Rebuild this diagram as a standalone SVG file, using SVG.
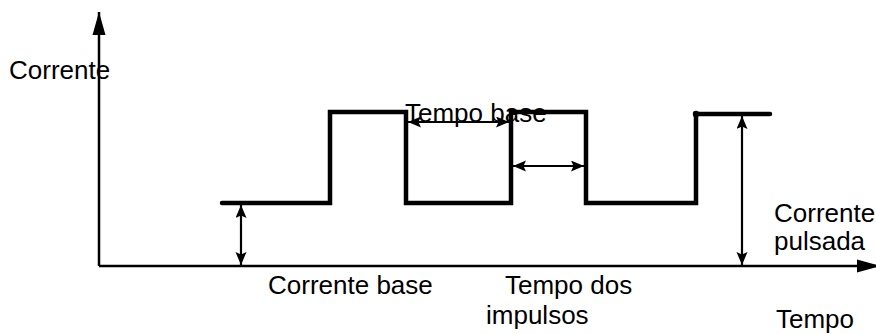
<svg xmlns="http://www.w3.org/2000/svg" width="876" height="334" viewBox="0 0 876 334">
<defs>
<style>
.t{font-family:"Liberation Sans",Arial,sans-serif;font-size:26px;fill:#000}
.ax{stroke:#000;stroke-width:2.5;fill:none}
.dim{stroke:#000;stroke-width:2.2;fill:none}
.wave{stroke:#000;stroke-width:4.5;fill:none;stroke-linecap:round;stroke-linejoin:miter}
</style>
<marker id="big" markerUnits="userSpaceOnUse" markerWidth="24" markerHeight="14" refX="23" refY="7" orient="auto-start-reverse"><path d="M0,0.5 L23,7 L0,13.5 Z" fill="#000"/></marker>
<marker id="sm" markerUnits="userSpaceOnUse" markerWidth="14" markerHeight="12" refX="13" refY="5.5" orient="auto-start-reverse"><path d="M0,0 L13,5.5 L0,11 L2.5,5.5 Z" fill="#000"/></marker>
</defs>
<rect width="876" height="334" fill="#fff"/>
<g id="axes">
<line class="ax" x1="99" y1="266" x2="99" y2="12" marker-end="url(#big)"/>
<line class="ax" x1="99" y1="266" x2="880" y2="266" marker-end="url(#big)"/>
</g>
<g id="waveform">
<path class="wave" d="M222,203 H330 V112 H406 V203 H511 V112 H586 V203 H696 V114 H770"/>
<circle cx="696" cy="114" r="3.2" fill="#000"/>
</g>
<g id="connectors">
<line class="dim" x1="408" y1="122" x2="509" y2="122" marker-start="url(#sm)" marker-end="url(#sm)"/>
<line class="dim" x1="513" y1="166" x2="584" y2="166" marker-start="url(#sm)" marker-end="url(#sm)"/>
<line class="dim" x1="241" y1="205" x2="241" y2="265" marker-start="url(#sm)" marker-end="url(#sm)"/>
<line class="dim" x1="742" y1="116" x2="742" y2="265" marker-start="url(#sm)" marker-end="url(#sm)"/>
</g>
<g id="labels">
<text class="t" x="9" y="79">Corrente</text>
<text class="t" x="405" y="122">Tempo base</text>
<text class="t" x="268" y="294">Corrente base</text>
<text class="t" x="505" y="294">Tempo dos</text>
<text class="t" x="486" y="324">impulsos</text>
<text class="t" x="774" y="222">Corrente</text>
<text class="t" x="774" y="250">pulsada</text>
<text class="t" x="776" y="328">Tempo</text>
</g>
</svg>
